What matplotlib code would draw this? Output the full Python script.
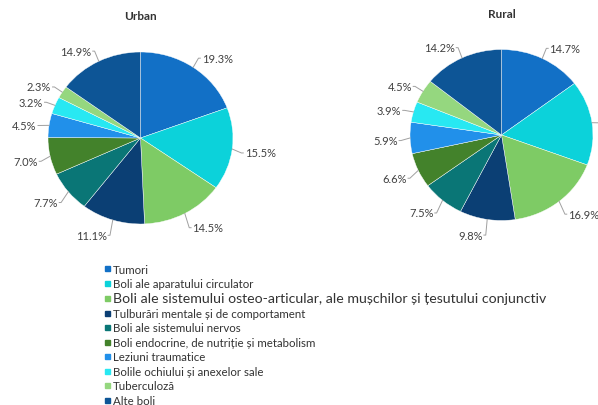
import numpy as np
import matplotlib
matplotlib.use("Agg")
import matplotlib.pyplot as plt
from matplotlib.lines import Line2D

categories = [
    "Tumori",
    "Boli ale aparatului circulator",
    "Boli ale sistemului osteo-articular, ale mușchilor și țesutului conjunctiv",
    "Tulburări mentale și de comportament",
    "Boli ale sistemului nervos",
    "Boli endocrine, de nutriție și metabolism",
    "Leziuni traumatice",
    "Bolile ochiului și anexelor sale",
    "Tuberculoză",
    "Alte boli",
]
urban = [19.3, 15.5, 14.5, 11.1, 7.7, 7.0, 4.5, 3.2, 2.3, 14.9]
rural = [14.7, 16.0, 16.9, 9.8, 7.5, 6.6, 5.9, 3.9, 4.5, 14.2]
colors = ["#1270C6", "#0CD2DA", "#7ECB65", "#0B3F74", "#0A7676",
          "#43822B", "#2190EA", "#28E8F2", "#95D77F", "#0D5596"]

plt.rcParams['font.family'] = ['Lato', 'DejaVu Sans']

W, H = 598, 406
fig = plt.figure(figsize=(W / 100, H / 100), dpi=100)


def make_axes(cx, cy, rx, ry, lim=1.5):
    w = 2 * lim * rx
    h = 2 * lim * ry
    left = (cx - w / 2) / W
    bottom = 1 - (cy + h / 2) / H
    ax = fig.add_axes([left, bottom, w / W, h / H])
    return ax


def draw_pie(ax, values, title, title_y):
    wedges, _ = ax.pie(values, colors=colors, startangle=90, counterclock=False,
                       wedgeprops=dict(linewidth=0.3, edgecolor="white"))
    ax.set_aspect('auto')
    ax.set_xlim(-1.5, 1.5)
    ax.set_ylim(-1.5, 1.5)
    ax.axis('off')
    total = sum(values)
    cum = 0.0
    for v in values:
        mid = (cum + v / 2) / total * 2 * np.pi
        cum += v
        sx, sy = np.sin(mid), np.cos(mid)
        p0 = (sx * 1.0, sy * 1.0)
        p1 = (sx * 1.10, sy * 1.16 - 0.025)
        side = 1 if sx >= 0 else -1
        p2 = (p1[0] + side * 0.02, p1[1])
        ax.plot([p0[0], p1[0], p2[0]], [p0[1], p1[1], p2[1]], color="#a0a0a0",
                lw=0.7, clip_on=False)
        ax.text(p2[0] + side * 0.015, p2[1], f"{v:.1f}%", ha='left' if side > 0 else 'right',
                va='center', fontsize=8, color="#404040", clip_on=False)
    fig.text(ax.get_position().x0 + ax.get_position().width / 2, 1 - title_y / H, title,
             ha='center', va='center', fontsize=8.5, fontweight='bold', color="#333333")


ax1 = make_axes(140.5, 139, 92.5, 86)
draw_pie(ax1, urban, "Urban", 17)
ax2 = make_axes(501.5, 136, 91.5, 85.5)
draw_pie(ax2, rural, "Rural", 15)

handles = [Line2D([0], [0], marker='s', linestyle='none', markersize=3.6,
                  markerfacecolor=c, markeredgecolor=c) for c in colors]
leg = fig.legend(handles, categories, loc='upper left',
                 bbox_to_anchor=(103.5 / W, 1 - 264.5 / H), frameon=False,
                 fontsize=8.3, handlelength=0.6, handletextpad=0.23,
                 labelspacing=0.3, borderpad=0, borderaxespad=0)
for i, t in enumerate(leg.get_texts()):
    t.set_color("#333333")
    if i == 2:
        t.set_fontsize(10.2)

fig.savefig("out.png", dpi=100)
